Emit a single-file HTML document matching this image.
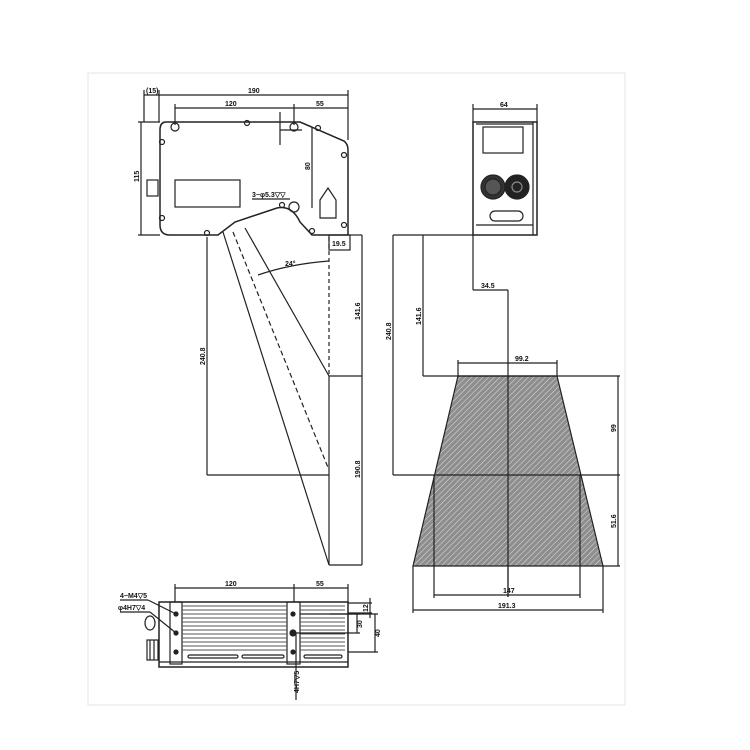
<!DOCTYPE html>
<html><head><meta charset="utf-8"><style>
html,body{margin:0;padding:0;background:#fff;}
svg{display:block;}
text{font-family:"Liberation Sans",sans-serif;font-size:7px;fill:#111;font-weight:bold;}
</style></head><body>
<svg width="750" height="750" viewBox="0 0 750 750" xmlns="http://www.w3.org/2000/svg">
<rect x="88" y="73" width="537" height="632" fill="none" stroke="#e4e4e4" stroke-width="1"/>
<g fill="none" stroke="#222" stroke-width="1.2">
<line x1="144" y1="90" x2="144" y2="122"/><line x1="159" y1="90" x2="159" y2="122"/>
<line x1="144" y1="95" x2="348" y2="95"/><line x1="348" y1="90" x2="348" y2="140"/>
<line x1="175" y1="108" x2="348" y2="108"/><line x1="175" y1="104" x2="175" y2="125"/><line x1="294" y1="104" x2="294" y2="125"/>
<line x1="141" y1="122" x2="141" y2="235"/><line x1="138" y1="122" x2="160" y2="122"/><line x1="138" y1="235" x2="160" y2="235"/>
<path d="M166,122 L300,122 L344,141 Q348,144 348,150 L348,235 L312,235 L300,222 Q292,205 277,208 L235,222 L218,235 L170,235 Q160,235 160,225 L160,130 Q160,122 166,122 Z" stroke-width="1.5"/>
<line x1="300" y1="122" x2="312" y2="127"/>
<line x1="312" y1="127" x2="312" y2="208"/>
<line x1="280" y1="112" x2="280" y2="145"/><line x1="280" y1="130" x2="302" y2="130"/>
<rect x="175" y="180" width="65" height="27"/>
<path d="M320,200 L328,188 L336,200 L336,218 L320,218 Z"/>
<line x1="252" y1="199" x2="290" y2="199"/>
<circle cx="175" cy="127" r="4"/><circle cx="294" cy="127" r="4"/><circle cx="294" cy="207" r="5"/>
<circle cx="247" cy="123" r="2.5"/><circle cx="318" cy="128" r="2.5"/><circle cx="344" cy="155" r="2.5"/><circle cx="344" cy="225" r="2.5"/><circle cx="162" cy="142" r="2.5"/><circle cx="162" cy="218" r="2.5"/><circle cx="207" cy="233" r="2.5"/><circle cx="312" cy="231" r="2.5"/><circle cx="282" cy="205" r="2.5"/>
<rect x="147" y="180" width="11" height="16"/>
<line x1="207" y1="237" x2="207" y2="475"/><line x1="207" y1="475" x2="329" y2="475"/>
<line x1="329" y1="376" x2="329" y2="565"/>
<line x1="329" y1="237" x2="329" y2="376" stroke-dasharray="4,3"/>
<line x1="362" y1="235" x2="362" y2="565"/><line x1="329" y1="376" x2="362" y2="376"/><line x1="329" y1="565" x2="362" y2="565"/>
<line x1="348" y1="235" x2="362" y2="235"/>
<rect x="329" y="235" width="21" height="15"/>
<line x1="223" y1="232" x2="329" y2="565"/>
<line x1="245" y1="228" x2="329" y2="376"/>
<line x1="233" y1="232" x2="329" y2="470" stroke-dasharray="5,3"/>
<path d="M258,275 Q290,264 329,261"/>
<rect x="473" y="122" width="64" height="113" stroke-width="1.5"/>
<line x1="473" y1="109" x2="537" y2="109"/><line x1="473" y1="104" x2="473" y2="122"/><line x1="537" y1="104" x2="537" y2="122"/>
<line x1="476" y1="124" x2="533" y2="124"/><line x1="533" y1="122" x2="533" y2="235"/><line x1="476" y1="225" x2="533" y2="225"/>
<rect x="483" y="127" width="40" height="26"/>
<circle cx="493" cy="187" r="12" fill="#333"/><circle cx="493" cy="187" r="8" fill="#555" stroke="#222"/>
<circle cx="517" cy="187" r="12" fill="#222"/><circle cx="517" cy="187" r="5" stroke="#888"/>
<rect x="490" y="211" width="33" height="10" rx="5"/>
<line x1="393" y1="235" x2="473" y2="235"/>
<line x1="393" y1="235" x2="393" y2="475"/><line x1="423" y1="235" x2="423" y2="376"/>
<line x1="473" y1="235" x2="473" y2="290"/><line x1="473" y1="290" x2="508" y2="290"/>
<line x1="508" y1="290" x2="508" y2="597"/>
</g>
<defs><pattern id="h" width="4" height="4" patternUnits="userSpaceOnUse" patternTransform="rotate(45)"><rect width="4" height="4" fill="#8e8e8e"/><line x1="0" y1="0" x2="0" y2="4" stroke="#e0e0e0" stroke-width="1"/></pattern></defs>
<polygon points="458,376 557,376 603,566 413,566" fill="url(#h)" stroke="#222" stroke-width="1.2"/>
<g fill="none" stroke="#222" stroke-width="1.2">
<line x1="508" y1="376" x2="508" y2="597"/>
<line x1="423" y1="376" x2="620" y2="376"/><line x1="393" y1="475" x2="620" y2="475"/><line x1="603" y1="566" x2="620" y2="566"/>
<line x1="618" y1="376" x2="618" y2="566"/>
<line x1="458" y1="363" x2="557" y2="363"/><line x1="458" y1="360" x2="458" y2="376"/><line x1="557" y1="360" x2="557" y2="376"/>
<line x1="434" y1="475" x2="434" y2="598"/><line x1="580" y1="475" x2="580" y2="598"/><line x1="434" y1="595" x2="580" y2="595"/>
<line x1="413" y1="566" x2="413" y2="613"/><line x1="603" y1="566" x2="603" y2="613"/><line x1="413" y1="610" x2="603" y2="610"/>
<rect x="159" y="602" width="189" height="65" stroke-width="1.5"/>
<line x1="175" y1="588" x2="348" y2="588"/><line x1="175" y1="584" x2="175" y2="602"/><line x1="294" y1="584" x2="294" y2="602"/><line x1="348" y1="584" x2="348" y2="602"/>
<rect x="170" y="602" width="12" height="62"/><rect x="287" y="602" width="13" height="62"/>
<line x1="159" y1="662" x2="348" y2="662"/>
</g>
<g stroke="#555" stroke-width="1">
<line x1="182" y1="606" x2="287" y2="606"/><line x1="182" y1="610" x2="287" y2="610"/><line x1="182" y1="614" x2="287" y2="614"/><line x1="182" y1="618" x2="287" y2="618"/><line x1="182" y1="622" x2="287" y2="622"/><line x1="182" y1="626" x2="287" y2="626"/><line x1="182" y1="630" x2="287" y2="630"/><line x1="182" y1="634" x2="287" y2="634"/><line x1="182" y1="638" x2="287" y2="638"/><line x1="182" y1="642" x2="287" y2="642"/><line x1="182" y1="646" x2="287" y2="646"/><line x1="182" y1="650" x2="287" y2="650"/>
<line x1="300" y1="606" x2="345" y2="606"/><line x1="300" y1="610" x2="345" y2="610"/><line x1="300" y1="614" x2="345" y2="614"/><line x1="300" y1="618" x2="345" y2="618"/><line x1="300" y1="622" x2="345" y2="622"/><line x1="300" y1="626" x2="345" y2="626"/><line x1="300" y1="630" x2="345" y2="630"/><line x1="300" y1="634" x2="345" y2="634"/><line x1="300" y1="638" x2="345" y2="638"/><line x1="300" y1="642" x2="345" y2="642"/><line x1="300" y1="646" x2="345" y2="646"/><line x1="300" y1="650" x2="345" y2="650"/>
</g>
<g fill="none" stroke="#222" stroke-width="1.2">
<rect x="188" y="655" width="50" height="3" rx="1.5" fill="#fff"/><rect x="242" y="655" width="42" height="3" rx="1.5" fill="#fff"/><rect x="304" y="655" width="38" height="3" rx="1.5" fill="#fff"/>
<circle cx="176" cy="614" r="2" fill="#222"/><circle cx="176" cy="633" r="2" fill="#222"/><circle cx="176" cy="652" r="2" fill="#222"/>
<circle cx="293" cy="614" r="2" fill="#222"/><circle cx="293" cy="633" r="3" fill="#222"/><circle cx="293" cy="652" r="2" fill="#222"/>
<ellipse cx="150" cy="623" rx="5" ry="7"/><rect x="147" y="640" width="11" height="20"/><line x1="150" y1="640" x2="150" y2="660"/><line x1="154" y1="640" x2="154" y2="660"/>
<line x1="120" y1="600" x2="148" y2="600"/><line x1="148" y1="600" x2="176" y2="614"/>
<line x1="120" y1="612" x2="150" y2="612"/><line x1="150" y1="612" x2="176" y2="633"/>
<line x1="348" y1="603" x2="372" y2="603"/><line x1="348" y1="613" x2="372" y2="613"/><line x1="370" y1="598" x2="370" y2="618"/>
<line x1="293" y1="633" x2="360" y2="633"/><line x1="300" y1="614" x2="360" y2="614"/><line x1="357" y1="614" x2="357" y2="633"/>
<line x1="348" y1="652" x2="378" y2="652"/><line x1="330" y1="614" x2="378" y2="614"/><line x1="375" y1="614" x2="375" y2="652"/>
<line x1="296" y1="633" x2="296" y2="700"/>
</g>
<text x="146" y="93">(15)</text><text x="248" y="93">190</text>
<text x="225" y="106">120</text><text x="316" y="106">55</text>
<text transform="translate(139,182) rotate(-90)">115</text>
<text transform="translate(310,170) rotate(-90)">80</text>
<text x="252" y="197">3−φ5.3▽▽</text>
<text x="332" y="246">19.5</text>
<text x="285" y="266">24°</text>
<text transform="translate(205,365) rotate(-90)">240.8</text>
<text transform="translate(360,320) rotate(-90)">141.6</text>
<text transform="translate(360,478) rotate(-90)">190.8</text>
<text x="500" y="107">64</text>
<text transform="translate(391,340) rotate(-90)">240.8</text>
<text transform="translate(421,325) rotate(-90)">141.6</text>
<text x="481" y="288">34.5</text>
<text x="515" y="361">99.2</text>
<text transform="translate(616,432) rotate(-90)">99</text>
<text transform="translate(616,528) rotate(-90)">51.6</text>
<text x="503" y="593">147</text>
<text x="498" y="608">191.3</text>
<text x="225" y="586">120</text><text x="316" y="586">55</text>
<text x="120" y="598">4−M4▽5</text><text x="118" y="610">φ4H7▽4</text>
<text transform="translate(368,612) rotate(-90)">12</text>
<text transform="translate(362,628) rotate(-90)">30</text>
<text transform="translate(380,637) rotate(-90)">40</text>
<text transform="translate(299,693) rotate(-90)">4H7▽5</text>
</svg>
</body></html>
